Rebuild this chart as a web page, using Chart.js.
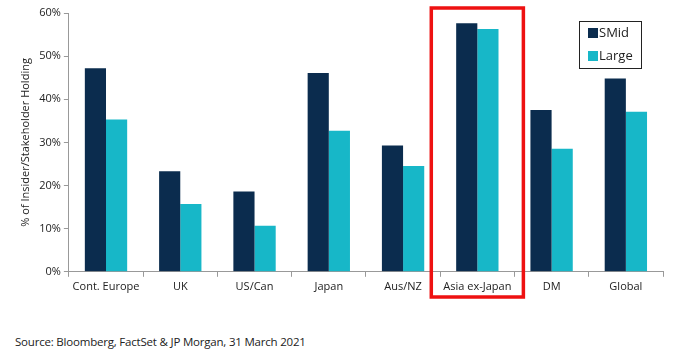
<!DOCTYPE html>
<html>
<head>
<meta charset="utf-8">
<script src="https://cdn.jsdelivr.net/npm/chart.js@4/dist/chart.umd.min.js"></script>
<style>
html,body{margin:0;padding:0;background:#fff;}
#wrap{position:relative;width:674px;height:356px;}
#c{position:absolute;left:0;top:0;}
#src{position:absolute;left:15px;top:334px;font-family:"Open Sans",sans-serif;font-size:11.5px;color:#222;letter-spacing:-0.2px;}
</style>
</head>
<body>
<div id="wrap">
<canvas id="c" width="674" height="300"></canvas>
<div id="src">Source: Bloomberg, FactSet &amp; JP Morgan, 31 March 2021</div>
</div>
<script>
const categories = ["Cont. Europe","UK","US/Can","Japan","Aus/NZ","Asia ex-Japan","DM","Global"];
const smid = [47.2, 23.3, 18.6, 46.1, 29.3, 57.6, 37.5, 44.8];
const large = [35.3, 15.7, 10.7, 32.7, 24.5, 56.3, 28.5, 37.1];
const yTicks = [0,10,20,30,40,50,60];
const highlightIndex = 5;

const FONT = '"Open Sans", sans-serif';
const C_SMID = '#0b2c4e';
const C_LARGE = '#17b7c8';

const overlay = {
  id:'overlay',
  afterDraw(chart){
    const ctx = chart.ctx;
    const xs = chart.scales.x;
    const cw = (xs.right - xs.left)/categories.length;
    const cx = xs.getPixelForValue(highlightIndex);
    ctx.save();
    ctx.strokeStyle = '#ee1111';
    ctx.lineWidth = 3.5;
    ctx.strokeRect(cx - cw*0.62, 8, cw*1.24, 289);
    ctx.lineWidth = 1;
    ctx.strokeStyle = '#222';
    ctx.fillStyle = '#fff';
    ctx.fillRect(579.5, 21.5, 62, 47);
    ctx.strokeRect(579.5, 21.5, 62, 47);
    const items = [['SMid',C_SMID,33],['Large',C_LARGE,56]];
    ctx.font = '13px ' + FONT;
    ctx.textBaseline = 'middle';
    items.forEach(([t,c,y])=>{
      ctx.fillStyle = c;
      ctx.fillRect(588, y-5, 10, 10);
      ctx.fillStyle = '#222';
      ctx.fillText(t, 599, y);
    });
    ctx.restore();
  }
};

new Chart(document.getElementById('c'), {
  type:'bar',
  data:{
    labels:categories,
    datasets:[
      {label:'SMid', data:smid, backgroundColor:C_SMID, borderWidth:0},
      {label:'Large', data:large, backgroundColor:C_LARGE, borderWidth:0}
    ]
  },
  options:{
    responsive:false,
    animation:false,
    layout:{padding:{top:13,right:11,left:19,bottom:4}},
    categoryPercentage:0.57,
    barPercentage:1.0,
    plugins:{legend:{display:false},tooltip:{enabled:false}},
    scales:{
      x:{
        grid:{drawOnChartArea:false, drawTicks:true, tickLength:5, color:'#999', offset:true},
        border:{display:true,color:'#999'},
        ticks:{font:{family:FONT,size:11},color:'#222',padding:3,maxRotation:0,autoSkip:false}
      },
      y:{
        min:0,max:60,
        afterBuildTicks(axis){ axis.ticks = yTicks.map(v=>({value:v})); },
        grid:{drawOnChartArea:false, drawTicks:true, tickLength:5, color:'#999'},
        border:{display:true,color:'#999'},
        ticks:{font:{family:FONT,size:11},color:'#222',padding:3,callback:v=>v+'%'},
        title:{display:true,text:'% of Insider/Stakeholder Holding',font:{family:FONT,size:11},color:'#222',padding:{top:0,bottom:4}}
      }
    }
  },
  plugins:[overlay]
});
</script>
</body>
</html>
